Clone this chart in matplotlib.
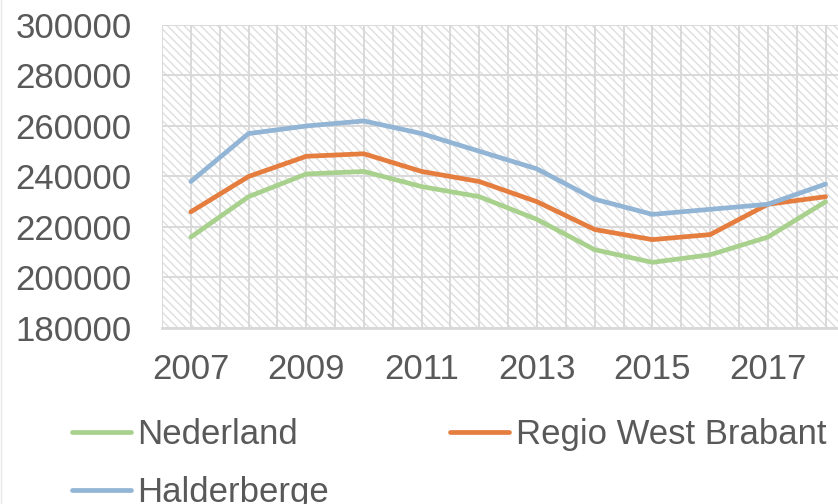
import matplotlib.pyplot as plt
from matplotlib.patches import Rectangle
from matplotlib.lines import Line2D

plt.rcParams['font.family'] = 'Liberation Sans'
plt.rcParams['hatch.linewidth'] = 1.0

years = list(range(2007, 2019))
nederland = [216000, 232000, 241000, 242000, 236000, 232000, 223000,
             211000, 206000, 209000, 216000, 230000]
regio_wb = [226000, 240000, 248000, 249000, 242000, 238000, 230000,
            219000, 215000, 217000, 229000, 232000]
halderberge = [238000, 257000, 260000, 262000, 257000, 250000, 243000,
               231000, 225000, 227000, 229000, 237000]
series_names = ['Nederland', 'Regio West Brabant', 'Halderberge']
colors = ['#A9D18E', '#E47D3E', '#92B5D6']
xtick_years = [2007, 2009, 2011, 2013, 2015, 2017]
yticks = list(range(180000, 300001, 20000))

TXT = '#595959'
GRID = '#d9d9d9'
FS = 25

fig = plt.figure(figsize=(8.38, 5.04), dpi=100)
ax = fig.add_axes([162 / 838, 1 - 328 / 504, 1 - 162 / 838, 303 / 504])

# hatched plot background
bg = Rectangle((0, 0), 1, 1, transform=ax.transAxes, facecolor='white',
               edgecolor='#dedede', hatch='\\\\\\\\', linewidth=0, zorder=0)
ax.add_patch(bg)

x0 = years[0] - 0.5
for k in range(0, 2 * len(years) + 1):
    ax.axvline(x0 + 0.5 * k, color=GRID, lw=1.4, zorder=1)
for v in yticks:
    ax.axhline(v, color=GRID, lw=1.4, zorder=1)

lines = {}
for vals, name, c in zip([nederland, regio_wb, halderberge], series_names, colors):
    lines[name], = ax.plot(years, vals, color=c, lw=3.4, label=name,
                           solid_capstyle='round', zorder=3)

ax.set_xlim(x0, x0 + (838 - 162) / 57.7)
ax.set_ylim(180000, 300000)
ax.set_xticks(xtick_years)
ax.set_xticklabels([str(y) for y in xtick_years])
ax.set_yticks(yticks)
ax.set_yticklabels([str(v) for v in yticks])
ax.tick_params(axis='both', length=0, labelsize=FS, labelcolor=TXT)
ax.tick_params(axis='x', pad=18)
ax.tick_params(axis='y', pad=22)

for s in ['top', 'right', 'left']:
    ax.spines[s].set_visible(False)
ax.spines['bottom'].set_color(GRID)
ax.spines['bottom'].set_linewidth(2)
ax.spines['bottom'].set_zorder(2)

# faint chart-area border on the left edge
fig.add_artist(Line2D([0.6 / 838, 0.6 / 838], [0, 1], color='#e8e8e8', lw=1))

# legend filled column-wise, so order gives rows: Nederland | Regio, Halderberge
order = ['Nederland', 'Halderberge', 'Regio West Brabant']
fig.legend([lines[n] for n in order], order,
           loc='upper left', bbox_to_anchor=(58 / 838, 1 - 404 / 504),
           ncol=2, frameon=False, fontsize=FS, labelcolor=TXT,
           handlelength=1.7, handletextpad=0.18, columnspacing=3.5,
           labelspacing=0.72, borderaxespad=0)

fig.savefig('out.png', dpi=100)
